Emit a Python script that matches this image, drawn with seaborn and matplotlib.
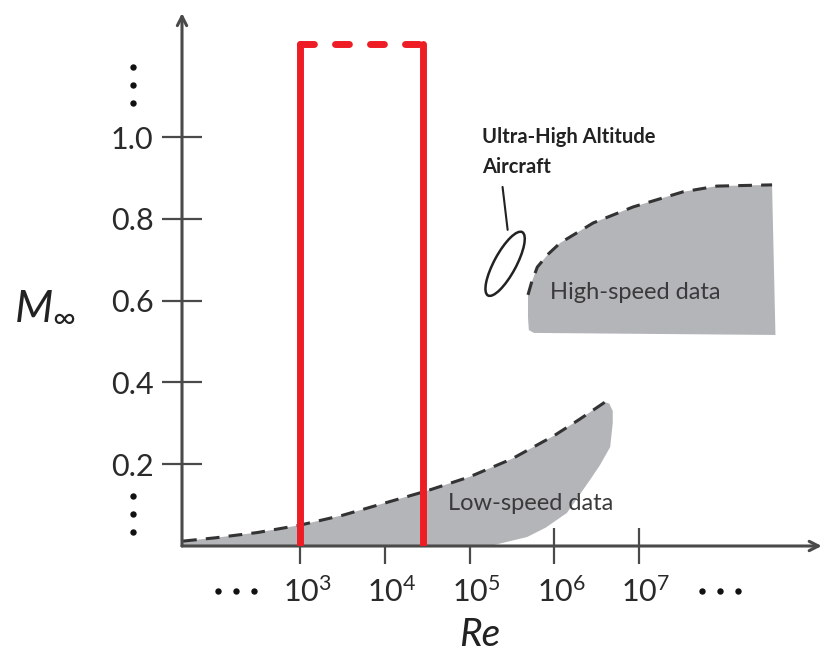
import matplotlib
matplotlib.use("Agg")
import matplotlib.pyplot as plt
import matplotlib.transforms as mtransforms
from matplotlib.patches import Ellipse
import seaborn as sns

# ---- data: log10(Re) and free-stream Mach number along region boundaries ----
low_top_logre = [1.62, 2.0, 2.5, 3.0, 3.5, 4.0, 4.5, 5.0, 5.5, 6.0, 6.3, 6.6]
low_top_mach = [0.012, 0.02, 0.033, 0.051, 0.075, 0.105, 0.135, 0.169, 0.213, 0.27, 0.31, 0.352]
low_edge_logre = [6.65, 6.69, 6.69, 6.66, 6.54, 6.42, 6.15, 5.9, 5.68, 5.24]
low_edge_mach = [0.348, 0.33, 0.30, 0.242, 0.198, 0.161, 0.081, 0.045, 0.022, 0.0]

high_top_logre = [5.69, 5.73, 5.80, 5.93, 6.07, 6.46, 6.93, 7.52, 7.92, 8.57]
high_top_mach = [0.614, 0.643, 0.682, 0.714, 0.741, 0.790, 0.829, 0.866, 0.880, 0.883]
high_edge_logre = [8.61, 5.76, 5.70, 5.69]
high_edge_mach = [0.516, 0.521, 0.528, 0.56]

# ultra-high altitude aircraft: ellipse centre (log10 Re, Mach)
uhaa_center = (5.42, 0.690)
uhaa_leader_logre = [5.39, 5.45]
uhaa_leader_mach = [0.878, 0.773]

# highlighted Reynolds-number band (log10 Re) and its top
box_logre = [3.0, 4.45]
box_top_mach = 1.227

xtick_exps = [3, 4, 5, 6, 7]
ytick_vals = [0.2, 0.4, 0.6, 0.8, 1.0]
xtick_labels = [f"$10^{{{e}}}$" for e in xtick_exps]
ytick_labels = [f"{v:.1f}" for v in ytick_vals]

# where the axes continue beyond the drawn range
ygap_mach = [1.127, 0.078]
xgap_logre = [2.245, 7.96]

# ---- style ----
sns.set_theme(style="white")
plt.rcParams["font.family"] = ["Lato", "DejaVu Sans"]
plt.rcParams["mathtext.fontset"] = "custom"
plt.rcParams["mathtext.rm"] = "Lato"
plt.rcParams["mathtext.it"] = "Lato:italic"

axis_col = "#4a4a4a"
fill_col = "#b4b5b9"
dash_col = "#333333"
red = "#ee1c25"

fig = plt.figure(figsize=(8.23, 6.52), dpi=100)
ax = fig.add_axes([182 / 823, 106 / 652, 641 / 823, 546 / 652])
ax.set_xlim(1.6077, 9.171)
ax.set_ylim(0, 1.335)
for s in ax.spines.values():
    s.set_visible(False)

# ---- data regions ----
ax.fill(low_top_logre + low_edge_logre + [low_top_logre[0]],
        low_top_mach + low_edge_mach + [0.0],
        color=fill_col, lw=0, zorder=1)
ax.fill(high_top_logre + high_edge_logre,
        high_top_mach + high_edge_mach,
        color=fill_col, lw=0, zorder=1)

sns.lineplot(x=low_top_logre, y=low_top_mach, ax=ax, color=dash_col, lw=2.2,
             linestyle=(0, (4.5, 3)), sort=False, estimator=None, legend=False, zorder=2)
sns.lineplot(x=high_top_logre, y=high_top_mach, ax=ax, color=dash_col, lw=2.2,
             linestyle=(0, (4.5, 3)), sort=False, estimator=None, legend=False, zorder=2)

ax.text(4.75, 0.105, "Low-speed data", fontsize=17, color="#3a3a3a",
        ha="left", va="center", zorder=3)
ax.text(5.95, 0.619, "High-speed data", fontsize=17, color="#3a3a3a",
        ha="left", va="center", zorder=3)

# ---- ultra-high altitude aircraft ----
ell = Ellipse((0, 0), width=0.72, height=0.22, angle=61.6, fill=False,
              edgecolor="#222222", lw=1.8,
              transform=fig.dpi_scale_trans
              + mtransforms.ScaledTranslation(*uhaa_center, ax.transData),
              zorder=3)
ax.add_patch(ell)
ax.plot(uhaa_leader_logre, uhaa_leader_mach, color="#222222", lw=1.5, zorder=3)
ax.text(5.15, 0.985, "Ultra-High Altitude", fontsize=14.5, fontweight="bold",
        color="#222222", ha="left", va="baseline")
ax.text(5.15, 0.912, "Aircraft", fontsize=14.5, fontweight="bold",
        color="#222222", ha="left", va="baseline")

# ---- highlighted band ----
for xv in box_logre:
    ax.plot([xv, xv], [0, box_top_mach], color=red, lw=5,
            solid_capstyle="round", zorder=5)
ax.plot(box_logre, [box_top_mach, box_top_mach], color=red, lw=5,
        linestyle=(0, (2.0, 3.04)), dash_capstyle="round", zorder=5)

# ---- axes with arrows ----
arrow = dict(arrowstyle="->,head_length=0.55,head_width=0.28", lw=2.2,
             color=axis_col, shrinkA=0, shrinkB=0)
ax.annotate("", xy=(0.998, 0), xytext=(0, 0), xycoords="axes fraction",
            arrowprops=arrow, annotation_clip=False, zorder=4)
ax.annotate("", xy=(0, 0.976), xytext=(0, 0), xycoords="axes fraction",
            arrowprops=arrow, annotation_clip=False, zorder=4)

ax.set_xticks(xtick_exps, xtick_labels)
ax.set_yticks(ytick_vals, ytick_labels)
ax.tick_params(axis="x", bottom=True, direction="inout", length=26, width=1.6,
               color=axis_col, labelsize=22, labelcolor="#2a2a2a", pad=9)
ax.tick_params(axis="y", left=True, direction="inout", length=29, width=1.6,
               color=axis_col, labelsize=22, labelcolor="#2a2a2a", pad=6)
# centre the mantissa "10" (not the whole power) under each tick
shift = mtransforms.ScaledTranslation(7 / 100, 0, fig.dpi_scale_trans)
for lab in ax.get_xticklabels():
    lab.set_transform(lab.get_transform() + shift)

# continuation dots (three round dots, 18 px apart)
dot_steps = [-18, 0, 18]
for m in ygap_mach:
    for d in dot_steps:
        tr = mtransforms.offset_copy(ax.get_yaxis_transform(), fig=fig,
                                     x=-49, y=d, units="dots")
        ax.plot([0], [m], marker="o", ms=4.6, color="#111111", mec="none",
                transform=tr, clip_on=False, zorder=4)
for xv in xgap_logre:
    for d in dot_steps:
        tr = mtransforms.offset_copy(ax.get_xaxis_transform(), fig=fig,
                                     x=d, y=-45, units="dots")
        ax.plot([xv], [0], marker="o", ms=4.6, color="#111111", mec="none",
                transform=tr, clip_on=False, zorder=4)

ax.set_xlabel("Re", fontsize=28, fontstyle="italic", color="#222222", va="center")
ax.xaxis.set_label_coords(0.465, -0.163)
ax.set_ylabel(r"$\mathit{M}_{\infty}$", fontsize=32, color="#222222", rotation=0,
              ha="center", va="center")
ax.yaxis.set_label_coords(-0.214, 0.441)

fig.savefig("out.png", dpi=100, facecolor="white")
